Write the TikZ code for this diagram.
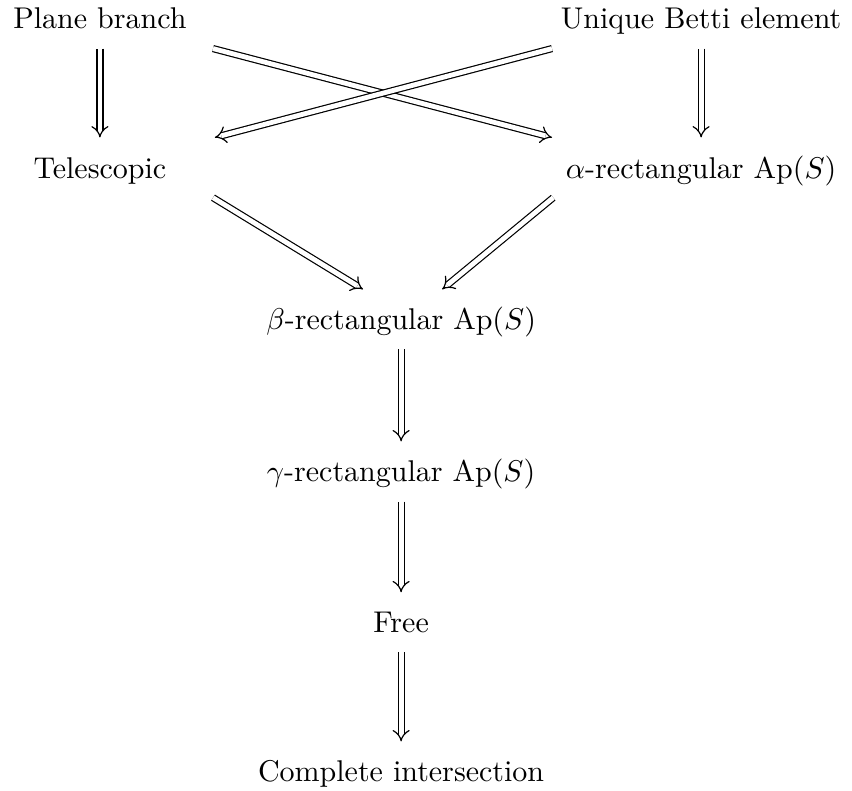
\documentclass[tikz,border=0pt]{standalone}
\usetikzlibrary{arrows.meta}
\begin{document}
\begin{tikzpicture}[
    x=1pt, y=1pt,
    stmt/.style={anchor=base, inner xsep=3.33pt, inner ysep=3pt, text height=10.33pt, text depth=3.33pt},
    impl/.style={line width=0.4pt, double distance=1.6pt, -Implies}
    ]
    \useasboundingbox (0,0) rectangle (284,263.67);
    
    % Obere Zeile
    \node[stmt] (pb) at (33.3,254) {Plane branch};
    \node[stmt] (ub) at (233.7,254) {Unique Betti element};
    
    % Zweite Zeile
    \node[stmt] (tel) at (33.3,204.3) {Telescopic};
    \node[stmt] (alp) at (233.7,204.3) {$\alpha$-rectangular $\mathrm{Ap}(S)$};
    
    % Mittlere Spalte
    \node[stmt] (bet) at (133.7,153.7) {$\beta$-rectangular $\mathrm{Ap}(S)$};
    \node[stmt] (gam) at (133.7,103) {$\gamma$-rectangular $\mathrm{Ap}(S)$};
    \node[stmt] (free) at (133.7,52.7) {Free};
    \node[stmt] (ci) at (133.7,3) {Complete intersection};
    
    % Senkrechte Implikationen
    \draw[impl] (pb) -- (tel);
    \draw[impl] (ub) -- (alp);
    \draw[impl] (bet) -- (gam);
    \draw[impl] (gam) -- (free);
    \draw[impl] (free) -- (ci);
    
    % Gekreuzte Implikationen
    \draw[impl] ([xshift=37.7pt]pb.south) -- ([xshift=-49.7pt]alp.north);
    \draw[impl] ([xshift=-49.7pt]ub.south) -- ([xshift=38.3pt]tel.north);
    
    % Zu beta
    \draw[impl] ([xshift=37.7pt]tel.south) -- ([xshift=-12.7pt]bet.north);
    \draw[impl] ([xshift=-49.3pt]alp.south) -- ([xshift=13.7pt]bet.north);
    
\end{tikzpicture}
\end{document}
